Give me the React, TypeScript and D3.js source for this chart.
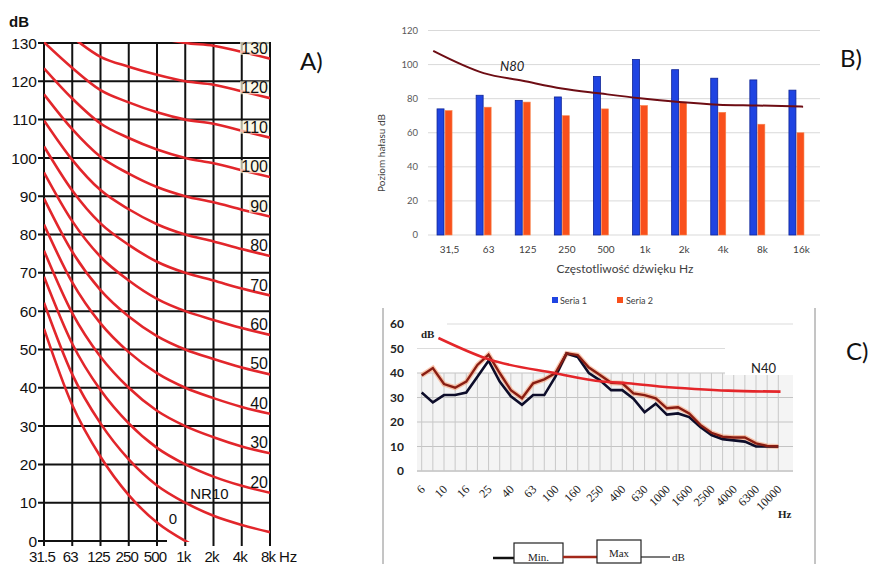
import * as d3 from "d3";

// ---------- A) NR curves ----------
const NR_BANDS = ["31.5", "63", "125", "250", "500", "1k", "2k", "4k", "8k"];
const NR_CURVES = [
  [55.4, 35.5, 22.0, 12.0, 4.8, 0, -3.5, -6.1, -8.0],
  [62.2, 43.5, 30.7, 21.3, 14.5, 10, 6.6, 4.2, 2.3],
  [69.0, 51.5, 39.4, 30.7, 24.3, 20, 16.8, 14.4, 12.6],
  [75.8, 59.5, 48.1, 40.0, 34.0, 30, 27.1, 24.7, 22.9],
  [82.6, 67.5, 56.8, 49.3, 43.8, 40, 37.3, 35.0, 33.2],
  [89.4, 75.5, 65.5, 58.6, 53.5, 50, 47.5, 45.3, 43.5],
  [96.2, 83.5, 74.2, 68.0, 63.2, 60, 57.7, 55.6, 53.8],
  [103.0, 91.5, 82.9, 77.3, 72.9, 70, 68.0, 65.9, 64.1],
  [109.8, 99.5, 91.6, 86.6, 82.7, 80, 78.2, 76.2, 74.4],
  [116.6, 107.5, 100.3, 95.9, 92.4, 90, 88.4, 86.5, 84.7],
  [123.4, 115.5, 109.0, 105.2, 102.2, 100, 98.6, 96.8, 95.0],
  [130.2, 123.5, 117.7, 114.5, 111.9, 110, 108.9, 107.1, 105.3],
  [137.0, 131.5, 126.4, 123.8, 121.7, 120, 119.1, 117.4, 115.6],
  [143.8, 139.5, 135.1, 133.1, 131.4, 130, 129.3, 127.7, 125.9],
];
const NR_RATINGS = [0, 10, 20, 30, 40, 50, 60, 70, 80, 90, 100, 110, 120, 130];
const A_Y_TICKS = [0, 10, 20, 30, 40, 50, 60, 70, 80, 90, 100, 110, 120, 130];

// ---------- B) bar chart ----------
const B_CATEGORIES = ["31,5", "63", "125", "250", "500", "1k", "2k", "4k", "8k", "16k"];
const B_SERIA1 = [74, 82, 79, 81, 93, 103, 97, 92, 91, 85];
const B_SERIA2 = [73, 75, 78, 70, 74, 76, 78, 72, 65, 60];
const B_N80_POS = [-0.29, 1, 2, 3, 4, 5, 6, 7, 8, 9.17];
const B_N80 = [108, 95, 90.5, 86, 83, 80.2, 78, 76.5, 76, 75.3];
const B_Y_TICKS = [0, 20, 40, 60, 80, 100, 120];

// ---------- C) line chart ----------
const C_FREQS = ["6.3", "8", "10", "12.5", "16", "20", "25", "31.5", "40", "50", "63", "80",
  "100", "125", "160", "200", "250", "315", "400", "500", "630", "800", "1000", "1250",
  "1600", "2000", "2500", "3150", "4000", "5000", "6300", "8000", "10000"];
const C_LABELS = ["6", "10", "16", "25", "40", "63", "100", "160", "250", "400", "630",
  "1000", "1600", "2500", "4000", "6300", "10000"];
const C_MIN = [32, 28, 31, 31, 32, 38.5, 45, 36.5, 30.5, 27, 31, 31, 38.5, 48, 46.5, 40, 37,
  33, 33, 29.5, 24, 27.5, 23, 23.5, 22, 18, 14.7, 13, 12.5, 12, 10, 10, 10];
const C_MAX = [39, 42, 35.5, 34, 36.5, 43.3, 47.5, 40, 33, 29.7, 35.8, 37.4, 40, 48, 47.3,
  42.2, 39.2, 36, 35.8, 31.7, 31, 29.7, 25.6, 26, 23.5, 18.8, 15.6, 14, 13.7, 13.7, 11.3, 10.2, 10];
const C_N40_POS = [1.5, 6, 12, 16.2, 18.5, 21.6, 24.5, 27.5, 32.2];
const C_N40 = [54.3, 45.6, 39.9, 36.5, 35.8, 34.4, 33.5, 32.8, 32.4];
const C_Y_TICKS = [0, 10, 20, 30, 40, 50, 60];

const SANS = "'Liberation Sans', Arial, sans-serif";
const LATO = "Lato, 'Open Sans', sans-serif";
const SERIF = "'Liberation Serif', 'DejaVu Serif', serif";

const PanelA = () => {
  const x = d3.scalePoint<string>().domain(NR_BANDS).range([44, 270]);
  const y = d3.scaleLinear().domain([0, 130]).range([541, 43]);
  const line = d3
    .line<number>()
    .x((_, i) => x(NR_BANDS[i])!)
    .y((d) => y(d))
    .curve(d3.curveMonotoneX);

  return (
    <g fontFamily={SANS} fill="#111">
      <defs>
        <clipPath id="clipA">
          <rect x={44} y={42} width={226} height={500} />
        </clipPath>
      </defs>
      {/* grid */}
      {A_Y_TICKS.map((t) => (
        <line
          key={"h" + t}
          x1={38}
          x2={t === 0 ? 167 : 270}
          y1={y(t)}
          y2={y(t)}
          stroke="#111"
          strokeWidth={2}
        />
      ))}
      {NR_BANDS.map((b) => (
        <line key={"v" + b} x1={x(b)} x2={x(b)} y1={42} y2={546} stroke="#111" strokeWidth={2} />
      ))}
      {/* curves */}
      <g clipPath="url(#clipA)">
        {NR_CURVES.map((c, i) => (
          <path key={i} d={line(c)!} fill="none" stroke="#e2262b" strokeWidth={2.6} />
        ))}
      </g>
      {/* y labels */}
      {A_Y_TICKS.map((t) => (
        <text key={"yl" + t} x={37} y={y(t)} dy="0.36em" textAnchor="end" fontSize={15.5}>
          {t}
        </text>
      ))}
      <text x={9} y={27} fontSize={15} fontWeight="bold">dB</text>
      {/* x labels */}
      {NR_BANDS.map((b) => (
        <text key={"xl" + b} x={x(b)! - 2} y={562} textAnchor="middle" fontSize={15} letterSpacing={-0.8}>
          {b}
        </text>
      ))}
      <text x={279} y={562} fontSize={15}>Hz</text>
      {/* curve labels */}
      {NR_RATINGS.filter((r) => r >= 20).map((r) => {
        const curve = NR_CURVES[NR_RATINGS.indexOf(r)];
        const by = y(curve[7]) + 2;
        const w = r >= 100 ? 29 : 20;
        return (
          <g key={"cl" + r}>
            {r >= 90 && (
              <rect x={269 - w} y={by - 12} width={w} height={13} fill="#f8f5dd" opacity={0.7} />
            )}
            <text x={268} y={by} textAnchor="end" fontSize={16}>
              {r}
            </text>
          </g>
        );
      })}
      <text x={x("1k")! + 5} y={y(10) - 4} fontSize={15}>NR10</text>
      <text x={173} y={y(4.5)} textAnchor="middle" fontSize={15}>0</text>
      <text x={300} y={70} fontSize={24} fontFamily={LATO}>A)</text>
    </g>
  );
};

const PanelB = () => {
  const x = d3
    .scaleBand<string>()
    .domain(B_CATEGORIES)
    .range([425, 816])
    .paddingInner(0.616)
    .paddingOuter(0.308);
  const xs = d3.scaleBand<string>().domain(["s1", "s2"]).range([0, x.bandwidth()]).paddingInner(0.13);
  const y = d3.scaleLinear().domain([0, 120]).range([235, 30.5]);
  const xi = d3
    .scaleLinear()
    .domain([0, 9])
    .range([x(B_CATEGORIES[0])! + x.bandwidth() / 2, x(B_CATEGORIES[9])! + x.bandwidth() / 2]);
  const n80 = d3
    .line<number>()
    .x((_, i) => xi(B_N80_POS[i]))
    .y((d) => y(d))
    .curve(d3.curveMonotoneX);

  return (
    <g fontFamily={LATO}>
      {B_Y_TICKS.map((t) => (
        <g key={t}>
          <line x1={428} x2={820} y1={y(t)} y2={y(t)} stroke="#d9d9d9" strokeWidth={1} />
          <text x={418} y={y(t)} dy="0.35em" textAnchor="end" fontSize={9.5} fill="#595959">
            {t}
          </text>
        </g>
      ))}
      {B_CATEGORIES.map((c, i) => (
        <g key={c}>
          <rect
            x={x(c)! + xs("s1")!}
            y={y(B_SERIA1[i])}
            width={xs.bandwidth()}
            height={y(0) - y(B_SERIA1[i])}
            fill="#1f44e2"
            stroke="#0d2396"
            strokeWidth={0.8}
          />
          <rect
            x={x(c)! + xs("s2")!}
            y={y(B_SERIA2[i])}
            width={xs.bandwidth()}
            height={y(0) - y(B_SERIA2[i])}
            fill="#f9501c"
            stroke="#f7854e"
            strokeWidth={0.6}
          />
          <text x={x(c)! + x.bandwidth() / 2 + 5} y={253} textAnchor="middle" fontSize={10} fill="#404040">
            {c}
          </text>
        </g>
      ))}
      <path d={n80(B_N80)!} fill="none" stroke="#6e0d14" strokeWidth={2} />
      <text x={500} y={71} fontSize={13} fontStyle="italic" fill="#222">N80</text>
      <text x={625} y={273} textAnchor="middle" fontSize={12} fill="#404040">
        Częstotliwość dźwięku Hz
      </text>
      <text transform="translate(385,153) rotate(-90)" textAnchor="middle" fontSize={10} fill="#404040">
        Poziom hałasu dB
      </text>
      <rect x={552} y={297} width={6} height={6} fill="#1f44e2" />
      <text x={560} y={303.5} fontSize={9} fill="#404040">Seria 1</text>
      <rect x={617} y={297} width={6} height={6} fill="#f9501c" />
      <text x={626} y={303.5} fontSize={9} fill="#404040">Seria 2</text>
      <text x={840} y={67} fontSize={24} fill="#111">B)</text>
    </g>
  );
};

const PanelC = () => {
  const x = d3.scaleLinear().domain([0, C_FREQS.length - 1]).range([421.7, 778.3]);
  const y = d3.scaleLinear().domain([0, 60]).range([471, 324]);
  const line = d3
    .line<number>()
    .x((_, i) => x(i))
    .y((d) => y(d))
    .curve(d3.curveLinear);
  const n40 = d3
    .line<number>()
    .x((_, i) => x(C_N40_POS[i]))
    .y((d) => y(d))
    .curve(d3.curveMonotoneX);

  return (
    <g>
      <line x1={383} x2={383} y1={308} y2={564} stroke="#8a8a8a" strokeWidth={1} />
      <line x1={815} x2={815} y1={308} y2={564} stroke="#8a8a8a" strokeWidth={1} />
      <rect x={417} y={y(40)} width={376} height={y(0) - y(40)} fill="#f4f4f4" />
      {C_Y_TICKS.map((t) => (
        <g key={t}>
          <line
            x1={417}
            x2={793}
            y1={y(t)}
            y2={y(t)}
            stroke={t === 0 ? "#cfcfcf" : t >= 50 ? "#dcdcdc" : "#c4c4c4"}
            strokeWidth={t === 0 ? 2 : 1.2}
          />
          <text
            x={404}
            y={y(t)}
            dy="0.36em"
            textAnchor="end"
            fontSize={12}
            fontWeight="bold"
            fontFamily={LATO}
            fill="#222"
          >
            {t}
          </text>
        </g>
      ))}
      {C_FREQS.map((f, i) => (
        <line key={f} x1={x(i)} x2={x(i)} y1={y(40)} y2={y(0)} stroke="#c8c8c8" strokeWidth={1} />
      ))}
      <rect x={410} y={318} width={37} height={25} fill="#fff" />
      <text x={421} y={338} fontSize={11} fontWeight="bold" fontFamily={SERIF} fill="#222">dB</text>
      <rect x={725} y={330} width={70} height={45} fill="#fff" />
      <text x={751} y={373} fontSize={13} fontFamily={LATO} fill="#222">N40</text>
      {/* lines */}
      <path d={line(C_MAX)!} fill="none" stroke="#f6a27a" strokeWidth={5} opacity={0.6} />
      <path d={line(C_MIN)!} fill="none" stroke="#0d0d2a" strokeWidth={2.6} />
      <path d={line(C_MAX)!} fill="none" stroke="#8a1d12" strokeWidth={2.4} />
      <path d={n40(C_N40)!} fill="none" stroke="#e4262a" strokeWidth={2.6} />
      {/* x labels */}
      {C_LABELS.map((l, j) => (
        <text
          key={l}
          transform={`translate(${x(j * 2) + 4},490) rotate(-45)`}
          textAnchor="end"
          fontSize={12}
          fontFamily={SERIF}
          fill="#222"
        >
          {l}
        </text>
      ))}
      <text x={778} y={518} fontSize={11} fontWeight="bold" fontFamily={SERIF} fill="#222">Hz</text>
      {/* legend */}
      <g fontFamily={SERIF} fontSize={11} fill="#222">
        <line x1={493} x2={514} y1={558} y2={558} stroke="#111" strokeWidth={2.5} />
        <rect x={514} y={543} width={49} height={20} fill="#fff" stroke="#222" strokeWidth={1.2} />
        <text x={538.5} y={561} textAnchor="middle">Min.</text>
        <line x1={563} x2={597} y1={557} y2={557} stroke="#a3281a" strokeWidth={2.5} />
        <rect x={597} y={540} width={44} height={23} fill="#fff" stroke="#222" strokeWidth={1.2} />
        <text x={619} y={557} textAnchor="middle">Max</text>
        <line x1={641} x2={670} y1={557} y2={557} stroke="#222" strokeWidth={1.2} />
        <text x={672} y={561}>dB</text>
      </g>
      <text x={846} y={360} fontSize={24} fontFamily={LATO} fill="#111">C)</text>
    </g>
  );
};

const App = () => {
  return (
    <svg
      width={872}
      height={564}
      style={{ position: "absolute", left: 0, top: 0, background: "#fff" }}
    >
      <rect width={872} height={564} fill="#fff" />
      <PanelA />
      <PanelB />
      <PanelC />
    </svg>
  );
};

export default App;
